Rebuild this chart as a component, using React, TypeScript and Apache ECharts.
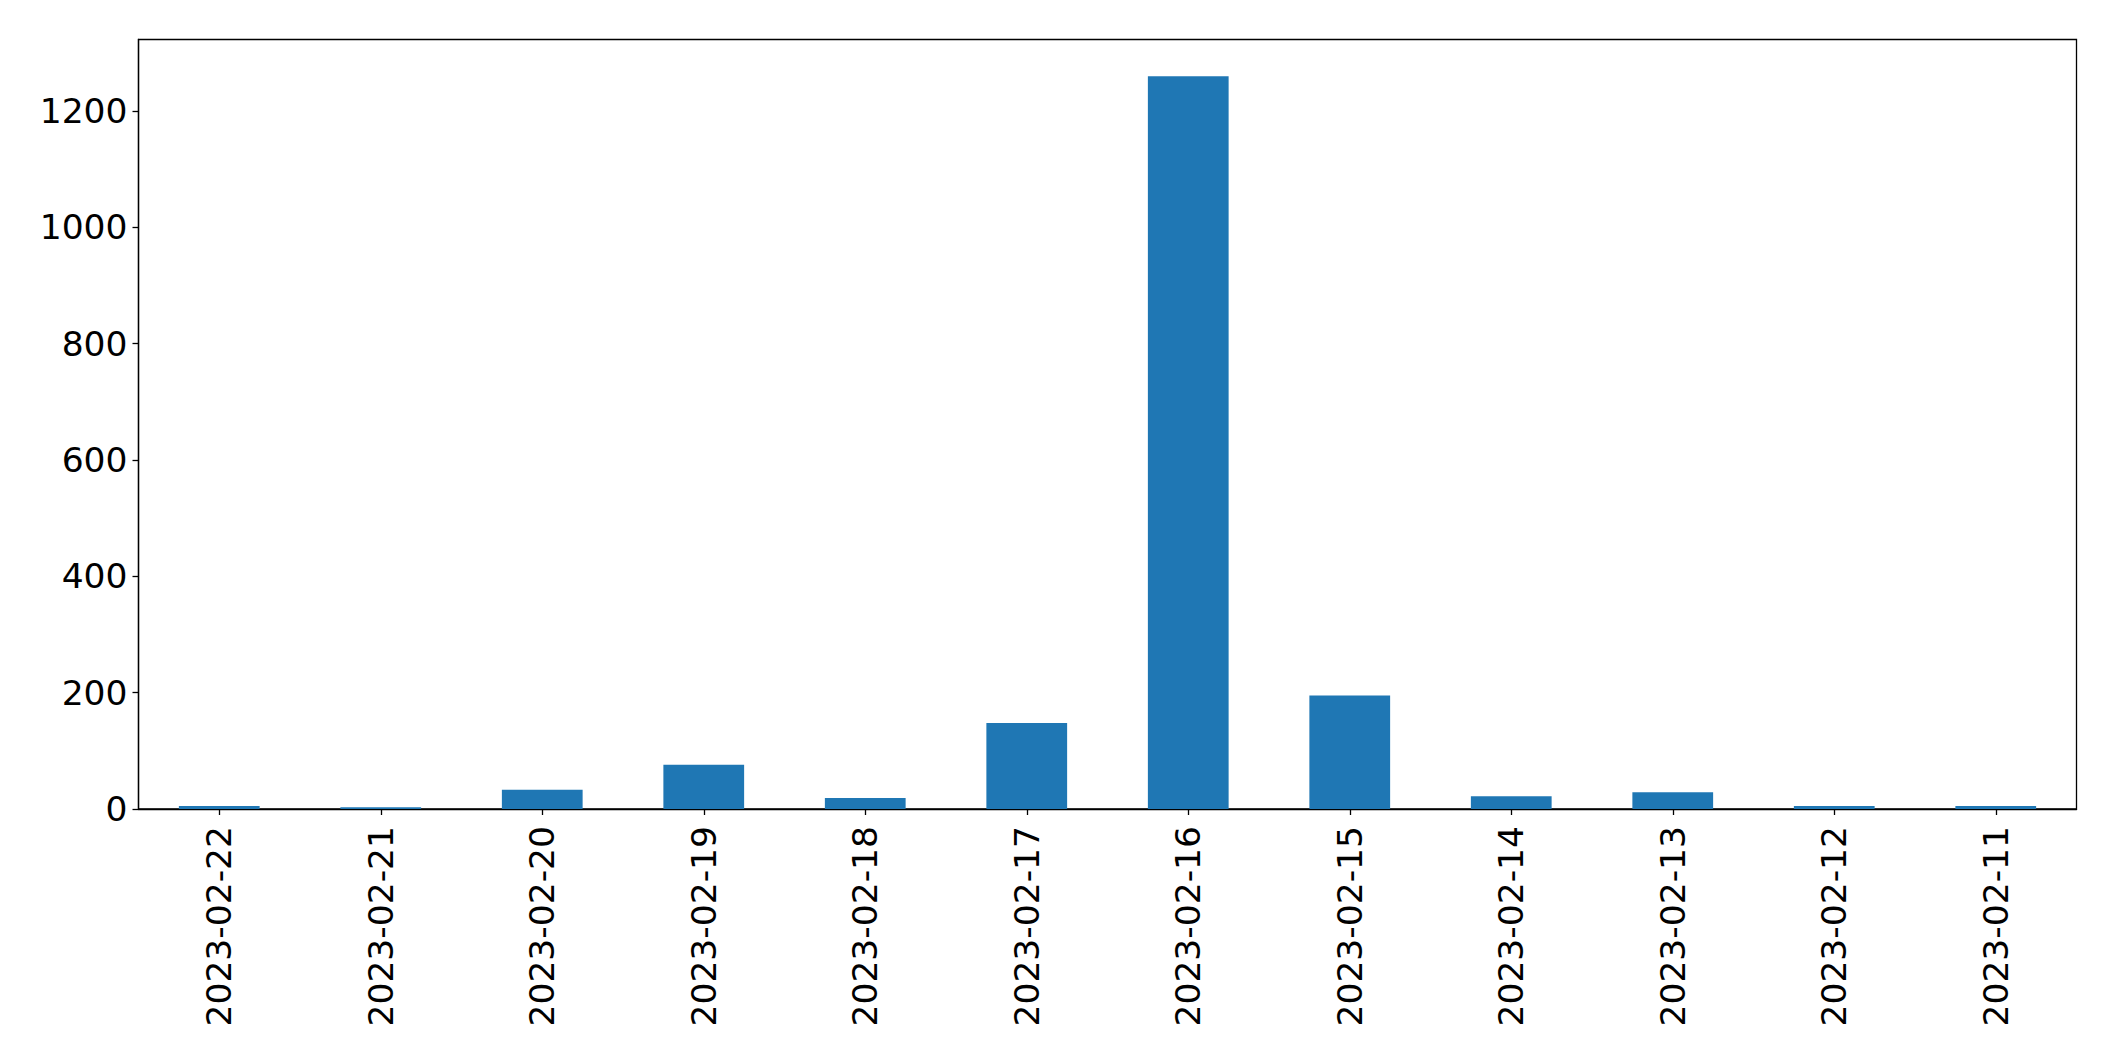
import React, { useEffect, useRef } from "react";
import * as echarts from "echarts";

const categories = [
  "2023-02-22", "2023-02-21", "2023-02-20", "2023-02-19", "2023-02-18", "2023-02-17",
  "2023-02-16", "2023-02-15", "2023-02-14", "2023-02-13", "2023-02-12", "2023-02-11",
];
const values = [5, 3, 33, 76, 19, 148, 1260, 195, 22, 29, 5, 5];
const yTicks = [0, 200, 400, 600, 800, 1000, 1200];

export default function App() {
  const ref = useRef<HTMLDivElement>(null);
  useEffect(() => {
    if (!ref.current) return;
    const chart = echarts.init(ref.current, undefined, { renderer: "svg" });
    const maxV = Math.max(...values) * 1.05;
    const font = "DejaVu Sans";
    chart.setOption({
      animation: false,
      backgroundColor: "#ffffff",
      grid: {
        left: 138.5,
        top: 39.5,
        right: 38.5,
        bottom: 252,
        show: true,
        borderColor: "#000000",
        borderWidth: 1.3,
        backgroundColor: "transparent",
        containLabel: false,
      },
      xAxis: {
        type: "category",
        data: categories,
        boundaryGap: true,
        axisLine: { show: true, lineStyle: { color: "#000", width: 1.3 } },
        axisTick: { show: true, alignWithLabel: true, length: 6, lineStyle: { color: "#000", width: 1.3 } },
        axisLabel: {
          rotate: 90,
          interval: 0,
          margin: 17,
          color: "#000",
          fontSize: 34.5,
          fontFamily: font,
        },
        splitLine: { show: false },
      },
      yAxis: {
        type: "value",
        min: 0,
        max: maxV,
        interval: 200,
        axisLine: { show: true, lineStyle: { color: "#000", width: 1.3 } },
        axisTick: { show: true, length: 6, lineStyle: { color: "#000", width: 1.3 }, customValues: yTicks },
        axisLabel: {
          margin: 11,
          color: "#000",
          fontSize: 34.5,
          fontFamily: font,
          customValues: yTicks,
          formatter: (v: number) => String(v),
        },
        splitLine: { show: false },
      },
      series: [
        {
          type: "bar",
          data: values,
          barWidth: "50%",
          itemStyle: { color: "#1f77b4" },
        },
      ],
    });
    return () => chart.dispose();
  }, []);
  return (
    <div
      ref={ref}
      style={{ position: "fixed", left: 0, top: 0, width: 2115, height: 1061 }}
    />
  );
}
